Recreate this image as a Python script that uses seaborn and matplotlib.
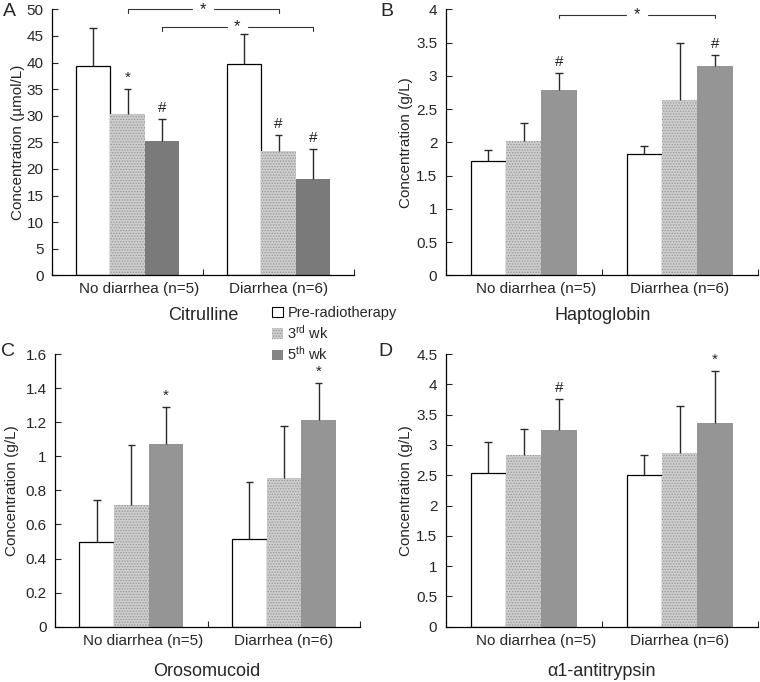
import pandas as pd
import matplotlib
matplotlib.use("Agg")
import matplotlib.pyplot as plt
import matplotlib.transforms as mtransforms
import seaborn as sns
from matplotlib.patches import Patch

# ---- data ----
groups = ["No diarrhea (n=5)", "Diarrhea (n=6)"]
times = ["Pre-radiotherapy", "3rd wk", "5th wk"]

# order: no diarrhea (pre, 3rd, 5th), diarrhea (pre, 3rd, 5th)
citrulline_mean = [39.3, 30.4, 25.2, 39.8, 23.4, 18.1]
citrulline_sd = [7.1, 4.6, 4.1, 5.5, 2.9, 5.6]
haptoglobin_mean = [1.72, 2.02, 2.79, 1.82, 2.63, 3.15]
haptoglobin_sd = [0.17, 0.27, 0.25, 0.13, 0.86, 0.16]
orosomucoid_mean = [0.495, 0.712, 1.07, 0.513, 0.873, 1.215]
orosomucoid_sd = [0.25, 0.354, 0.217, 0.336, 0.307, 0.217]
antitrypsin_mean = [2.54, 2.84, 3.25, 2.50, 2.86, 3.36]
antitrypsin_sd = [0.50, 0.43, 0.51, 0.34, 0.79, 0.86]

# significance marks above bars (same order as values)
citrulline_marks = ["", "*", "#", "", "#", "#"]
haptoglobin_marks = ["", "", "#", "", "", "#"]
orosomucoid_marks = ["", "", "*", "", "", "*"]
antitrypsin_marks = ["", "", "#", "", "", "*"]


def make_df(mean, sd):
    rows = []
    i = 0
    for g in groups:
        for t in times:
            rows.append({"Group": g, "Time": t, "Mean": mean[i], "SD": sd[i]})
            i += 1
    return pd.DataFrame(rows)


sns.set_style("ticks")
plt.rcParams["font.family"] = ["Liberation Sans", "DejaVu Sans"]
plt.rcParams["mathtext.fontset"] = "custom"
plt.rcParams["mathtext.rm"] = "Liberation Sans"
plt.rcParams["mathtext.it"] = "Liberation Sans"
plt.rcParams["hatch.linewidth"] = 0.6

DOT_FACE = "#cdcdcd"
DOT_HATCH = "#959595"

fig = plt.figure(figsize=(7.6, 6.82), dpi=100)
W, H = 760, 682


def add_ax(left, right, bottom, top):
    return fig.add_axes([left / W, 1 - bottom / H, (right - left) / W, (bottom - top) / H])


def panel(ax, mean, sd, marks, ymax, ystep, dark, ylabel, label_x):
    df = make_df(mean, sd)
    sns.barplot(data=df, x="Group", y="Mean", hue="Time", order=groups,
                hue_order=times, errorbar=None, width=0.68, ax=ax,
                palette=["white", DOT_FACE, dark], legend=False,
                saturation=1)
    centers = {}
    for ti, cont in enumerate(ax.containers):
        for gi, bar in enumerate(cont):
            if ti == 0:
                bar.set_edgecolor("black")
                bar.set_linewidth(0.9)
            elif ti == 1:
                bar.set_hatch("......")
                bar.set_edgecolor(DOT_HATCH)
                bar.set_linewidth(0)
            else:
                bar.set_edgecolor("none")
                bar.set_linewidth(0)
            x = bar.get_x() + bar.get_width() / 2
            y = bar.get_height()
            idx = gi * 3 + ti
            e = sd[idx]
            ax.vlines(x, y, y + e, color="#2a2a2a", lw=1, zorder=3)
            ax.hlines(y + e, x - 0.025, x + 0.025, color="#2a2a2a", lw=1, zorder=3)
            if marks[idx]:
                ax.annotate(marks[idx], (x, y + e), xytext=(0, 3),
                            textcoords="offset points", ha="center",
                            va="bottom", fontsize=11, color="#222222")
            centers[idx] = x
    ax.set_xlim(-0.5, 1.5)
    ax.set_ylim(0, ymax)
    ticks = [round(i * ystep, 2) for i in range(int(round(ymax / ystep)) + 1)]
    ax.set_yticks(ticks)
    ax.set_yticklabels([("%g" % t) for t in ticks])
    ax.set_xticks([0, 1])
    ax.set_xticklabels(groups)
    ax.set_xticks([-0.5, 0.5, 1.5], minor=True)
    ax.tick_params(axis="x", which="major", length=0, labelsize=11, pad=5)
    ax.tick_params(axis="x", which="minor", length=4, direction="in", width=0.8)
    ax.tick_params(axis="y", length=4, direction="in", width=0.8, labelsize=11, pad=6)
    # the first category label sits a little right of its bar group
    shift = mtransforms.ScaledTranslation(12 / 100, 0, fig.dpi_scale_trans)
    first = ax.get_xticklabels()[0]
    first.set_transform(first.get_transform() + shift)
    ax.set_xlabel("")
    ax.set_ylabel(ylabel, fontsize=11, va="center")
    ax.yaxis.set_label_coords(label_x, 0.5)
    for s in ["top", "right"]:
        ax.spines[s].set_visible(False)
    for s in ["left", "bottom"]:
        ax.spines[s].set_linewidth(0.9)
        ax.spines[s].set_color("black")
    return centers


def bracket(ax, x1, x2, y, tick):
    xm = (x1 + x2) / 2
    gap = 0.07
    kw = dict(color="#333333", lw=0.8, clip_on=False)
    ax.plot([x1, xm - gap], [y, y], **kw)
    ax.plot([xm + gap, x2], [y, y], **kw)
    ax.plot([x1, x1], [y, y - tick], **kw)
    ax.plot([x2, x2], [y, y - tick], **kw)
    ax.text(xm, y, "*", ha="center", va="center", fontsize=12, color="#222222")


axA = add_ax(52, 354, 275.3, 9.3)
cA = panel(axA, citrulline_mean, citrulline_sd, citrulline_marks, 50, 5,
           "#7a7a7a", "Concentration (\u00b5mol/L)", -0.113)
bracket(axA, cA[1], cA[4], 50, 0.7)
bracket(axA, cA[2], cA[5], 46.7, 0.7)

axB = add_ax(445.7, 757.7, 275.3, 9.3)
cB = panel(axB, haptoglobin_mean, haptoglobin_sd, haptoglobin_marks, 4, 0.5,
           "#959595", "Concentration (g/L)", -0.126)
bracket(axB, cB[2], cB[5], 3.92, 0.05)

axC = add_ax(55, 360.4, 626.7, 354)
panel(axC, orosomucoid_mean, orosomucoid_sd, orosomucoid_marks, 1.6, 0.2,
      "#959595", "Concentration (g/L)", -0.141)

axD = add_ax(445.7, 757.7, 626.7, 354)
panel(axD, antitrypsin_mean, antitrypsin_sd, antitrypsin_marks, 4.5, 0.5,
      "#959595", "Concentration (g/L)", -0.126)

# panel titles
fig.text(203 / W, 1 - 316 / H, "Citrulline", ha="center", va="center", fontsize=13)
fig.text(603 / W, 1 - 316 / H, "Haptoglobin", ha="center", va="center", fontsize=13)
fig.text(207 / W, 1 - 672 / H, "Orosomucoid", ha="center", va="center", fontsize=13)
fig.text(602 / W, 1 - 672 / H, "\u03b11-antitrypsin", ha="center", va="center", fontsize=13)

# panel letters
for letter, px, py in [("A", 9, 12), ("B", 387, 12), ("C", 8, 351), ("D", 385, 351)]:
    fig.text(px / W, 1 - py / H, letter, ha="center", va="center", fontsize=14)

# legend
handles = [Patch(facecolor="white", edgecolor="black", linewidth=0.8),
           Patch(facecolor=DOT_FACE, edgecolor=DOT_HATCH, hatch="......", linewidth=0),
           Patch(facecolor="#858585", edgecolor="none")]
labels = ["Pre-radiotherapy", "3$^{\\mathrm{rd}}$ wk", "5$^{\\mathrm{th}}$ wk"]
fig.legend(handles, labels, loc="upper left", bbox_to_anchor=(272 / W, 1 - 306 / H),
           frameon=False, handlelength=0.75, handleheight=0.75, handletextpad=0.3,
           labelspacing=0.25, fontsize=10.5, borderpad=0, borderaxespad=0)

fig.savefig("out.png", dpi=100)
